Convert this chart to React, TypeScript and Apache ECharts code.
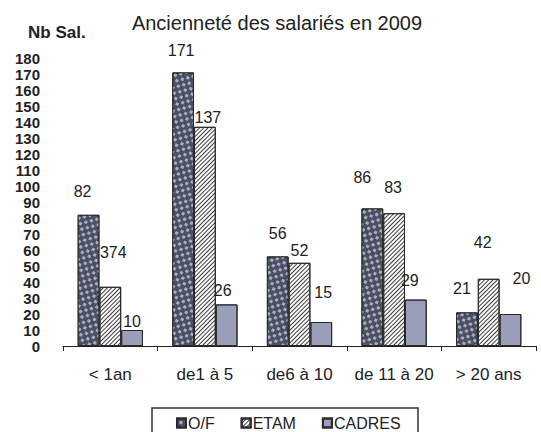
import React, { useEffect, useRef } from "react";
import * as echarts from "echarts";

const titleText = "Ancienneté des salariés en 2009";
const yAxisName = "Nb Sal.";
const categories = ["< 1an", "de1 à 5", "de6 à 10", "de 11 à 20", "> 20 ans"];
const seriesNames = ["O/F", "ETAM", "CADRES"];
const ofValues = [82, 171, 56, 86, 21];
const etamValues = [37, 137, 52, 83, 42];
const cadresValues = [10, 26, 15, 29, 20];
const ofLabels = ["82", "171", "56", "86", "21"];
const etamLabels = ["374", "137", "52", "83", "42"];
const cadresLabels = ["10", "26", "15", "29", "20"];

// label offsets [dx, dy] as placed in the original picture
const ofOffsets = [[-6, -10], [-2, -9], [0, -10], [-10, -18], [-5, -11]];
const etamOffsets = [[3, -21], [3, 4], [0, 1], [-1, -13], [-6, -23]];
const cadresOffsets = [[0, 4], [-4, -1], [2, -17], [-6, -6], [11, -23]];

const labelFont = {
  fontFamily: "'Liberation Sans', Arial, sans-serif",
  fontSize: 16,
  color: "#222",
};

function buildData(values: number[], offsets: number[][]) {
  return values.map((v, i) => ({ value: v, label: { offset: offsets[i] } }));
}

export default function App() {
  const ref = useRef<HTMLDivElement>(null);
  useEffect(() => {
    if (!ref.current) return;
    const chart = echarts.init(ref.current, null, { renderer: "svg" });
    const mk = (
      name: string,
      values: number[],
      offsets: number[][],
      labels: string[],
      color: string,
      decal: any
    ) => ({
      name,
      type: "bar",
      barGap: "0%",
      barCategoryGap: "31%",
      data: buildData(values, offsets),
      itemStyle: { color, borderColor: "#2a2a2a", borderWidth: 1, decal },
      label: {
        show: true,
        position: "top",
        distance: 5,
        ...labelFont,
        formatter: (p: any) => labels[p.dataIndex],
      },
    });
    chart.setOption({
      animation: false,
      backgroundColor: "#ffffff",
      aria: { enabled: true, label: { enabled: false }, decal: { show: true } },
      title: {
        text: titleText,
        left: 272,
        textAlign: "center",
        top: 8,
        textStyle: {
          fontFamily: "'Liberation Sans', Arial, sans-serif",
          fontSize: 20,
          fontWeight: "normal",
          color: "#222",
        },
      },
      graphic: [
        {
          type: "text",
          left: 28,
          top: 24,
          style: {
            text: yAxisName,
            font: "bold 17px 'Liberation Sans', Arial, sans-serif",
            fill: "#222",
          },
        },
        {
          type: "rect",
          shape: { x: 152, y: 408, width: 266, height: 40 },
          style: { fill: "none", stroke: "#333", lineWidth: 1.5 },
        },
      ],
      legend: {
        data: seriesNames,
        left: 176,
        top: 415,
        padding: 0,
        itemWidth: 9,
        itemHeight: 9,
        itemGap: 26,
        icon: "rect",
        textStyle: {
          fontFamily: "'Liberation Sans', Arial, sans-serif",
          fontSize: 16,
          color: "#222",
          padding: [0, 0, 0, -3],
        },
      },
      grid: { left: 63, right: 5, top: 58, bottom: 86 },
      xAxis: {
        type: "category",
        data: categories,
        axisLine: { lineStyle: { color: "#222", width: 1 } },
        axisTick: { show: true, length: 5, lineStyle: { color: "#222" } },
        axisLabel: {
          interval: 0,
          margin: 20,
          fontFamily: "'Liberation Sans', Arial, sans-serif",
          fontSize: 17,
          color: "#222",
        },
      },
      yAxis: {
        type: "value",
        min: 0,
        max: 180,
        interval: 10,
        axisLine: { show: false },
        axisTick: { show: false },
        splitLine: { show: false },
        axisLabel: {
          margin: 23,
          showMinLabel: true,
          showMaxLabel: true,
          hideOverlap: false,
          fontFamily: "'Liberation Sans', Arial, sans-serif",
          fontWeight: "bold",
          fontSize: 15,
          color: "#222",
        },
      },
      series: [
        mk(seriesNames[0], ofValues, ofOffsets, ofLabels, "#4a4f63", {
          symbol: "rect",
          symbolSize: 1,
          color: "#a9adbd",
          dashArrayX: [[2.5, 4.5], [0, 3.5, 2.5, 1]],
          dashArrayY: [2.5, 1],
        }),
        mk(seriesNames[1], etamValues, etamOffsets, etamLabels, "#ffffff", {
          symbol: "rect",
          symbolSize: 1,
          color: "#3a3a3a",
          dashArrayX: [1, 0],
          dashArrayY: [1, 2],
          rotation: -Math.PI / 4,
        }),
        mk(seriesNames[2], cadresValues, cadresOffsets, cadresLabels, "#9a9eb8", {
          symbol: "rect",
          symbolSize: 1,
          color: "rgba(0,0,0,0)",
          dashArrayX: [1, 0],
          dashArrayY: [1, 0],
        }),
      ],
    });
    return () => chart.dispose();
  }, []);
  return (
    <div
      ref={ref}
      style={{ position: "fixed", left: 0, top: 0, width: 541, height: 432 }}
    />
  );
}
